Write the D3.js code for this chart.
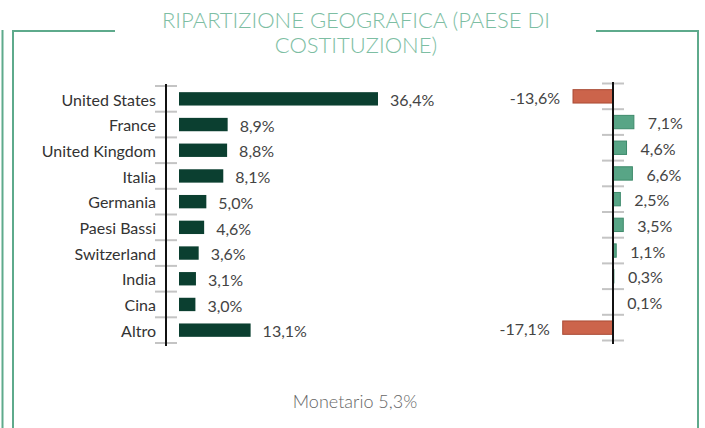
<!DOCTYPE html>
<html>
<head>
<meta charset="utf-8">
<script src="https://cdn.jsdelivr.net/npm/d3@7"></script>
<style>
  html, body { margin: 0; padding: 0; background: #fff; }
  svg { display: block; font-family: Lato, "Open Sans", sans-serif; }
</style>
</head>
<body>
<svg id="chart" width="705" height="428"></svg>
<script>
const titleLines = ["RIPARTIZIONE GEOGRAFICA (PAESE DI", "COSTITUZIONE)"];
const categories = ["United States", "France", "United Kingdom", "Italia", "Germania", "Paesi Bassi", "Switzerland", "India", "Cina", "Altro"];
const weights = [36.4, 8.9, 8.8, 8.1, 5.0, 4.6, 3.6, 3.1, 3.0, 13.1];
const deltas = [-13.6, 7.1, 4.6, 6.6, 2.5, 3.5, 1.1, 0.3, 0.1, -17.1];
const footnote = "Monetario 5,3%";

const fmt = v => (v < 0 ? "-" : "") + d3.format(".1f")(Math.abs(v)).replace(".", ",") + "%";

const svg = d3.select("#chart");
const frameColor = "#5eaa8c";

// Frame
const frame = svg.append("g").attr("stroke", frameColor).attr("stroke-width", 2).attr("fill", "none");
frame.append("line").attr("x1", 2.5).attr("x2", 2.5).attr("y1", 30).attr("y2", 428);
frame.append("path").attr("d", "M13,428 V31 H115");
frame.append("path").attr("d", "M596,31 H698 V428");

// Title
svg.append("text")
  .attr("x", 356).attr("y", 28)
  .attr("text-anchor", "middle")
  .attr("fill", "#7dbea3")
  .attr("font-size", 22).attr("font-weight", 300)
  .selectAll("tspan").data(titleLines).join("tspan")
  .attr("x", 356).attr("dy", (d, i) => i === 0 ? 0 : 25)
  .text(d => d);

// Left chart
const xL = d3.scaleLinear().domain([0, 40]).range([179, 179 + 40 * 5.467]);
const yL = d3.scaleBand().domain(categories).range([86, 343]).paddingInner(0.48).paddingOuter(0.24);
const axisXL = 166;

const gL = svg.append("g");
gL.selectAll(".tick").data(d3.range(categories.length + 1)).join("line")
  .attr("x1", axisXL - 11).attr("x2", axisXL + 11)
  .attr("y1", i => yL.range()[0] + i * yL.step())
  .attr("y2", i => yL.range()[0] + i * yL.step())
  .attr("stroke", "#c4c4c4").attr("stroke-width", 2);
gL.append("line").attr("x1", axisXL).attr("x2", axisXL).attr("y1", 84).attr("y2", 346)
  .attr("stroke", "#111").attr("stroke-width", 2);
gL.selectAll("rect").data(categories).join("rect")
  .attr("x", xL(0)).attr("y", d => yL(d))
  .attr("width", (d, i) => xL(weights[i]) - xL(0))
  .attr("height", yL.bandwidth())
  .attr("fill", "#0b3f30");
gL.selectAll(".cat").data(categories).join("text")
  .attr("x", 156).attr("y", d => yL(d) + yL.bandwidth() / 2)
  .attr("dy", "0.42em").attr("text-anchor", "end")
  .attr("font-size", 16).attr("fill", "#333")
  .text(d => d);
gL.selectAll(".val").data(categories).join("text")
  .attr("x", (d, i) => xL(weights[i]) + 12)
  .attr("y", d => yL(d) + yL.bandwidth() / 2)
  .attr("dy", "0.45em")
  .attr("font-size", 16).attr("fill", "#444")
  .text((d, i) => fmt(weights[i]));

// Right chart
const pxPer = 2.94;
const xR = d3.scaleLinear().domain([-20, 10]).range([613 - 20 * pxPer, 613 + 10 * pxPer]);
const yR = d3.scaleBand().domain(categories).range([83.5, 340.5]).paddingInner(0.48).paddingOuter(0.24);
const axisXR = xR(0);

const gR = svg.append("g");
gR.selectAll(".tick").data(d3.range(categories.length + 1)).join("line")
  .attr("x1", axisXR - 11).attr("x2", axisXR + 11)
  .attr("y1", i => yR.range()[0] + i * yR.step())
  .attr("y2", i => yR.range()[0] + i * yR.step())
  .attr("stroke", "#c4c4c4").attr("stroke-width", 2);
gR.selectAll("rect").data(categories).join("rect")
  .attr("x", (d, i) => Math.min(xR(0), xR(deltas[i])))
  .attr("y", d => yR(d))
  .attr("width", (d, i) => Math.abs(xR(deltas[i]) - xR(0)))
  .attr("height", yR.bandwidth())
  .attr("fill", (d, i) => deltas[i] < 0 ? "#cc644b" : "#58a586")
  .attr("stroke", (d, i) => deltas[i] < 0 ? "#a94b35" : "#3e8a6b")
  .attr("stroke-width", 1);
gR.append("line").attr("x1", axisXR).attr("x2", axisXR).attr("y1", 82).attr("y2", 344)
  .attr("stroke", "#111").attr("stroke-width", 2);
gR.selectAll(".val").data(categories).join("text")
  .attr("x", (d, i) => deltas[i] < 0 ? xR(deltas[i]) - 13 : xR(deltas[i]) + 14)
  .attr("y", d => yR(d) + yR.bandwidth() / 2)
  .attr("dy", "0.45em")
  .attr("text-anchor", (d, i) => deltas[i] < 0 ? "end" : "start")
  .attr("font-size", 16).attr("fill", "#444")
  .text((d, i) => fmt(deltas[i]));

// Footnote
svg.append("text")
  .attr("x", 355).attr("y", 408)
  .attr("text-anchor", "middle")
  .attr("font-size", 18).attr("font-weight", 300).attr("fill", "#666")
  .text(footnote);
</script>
</body>
</html>
